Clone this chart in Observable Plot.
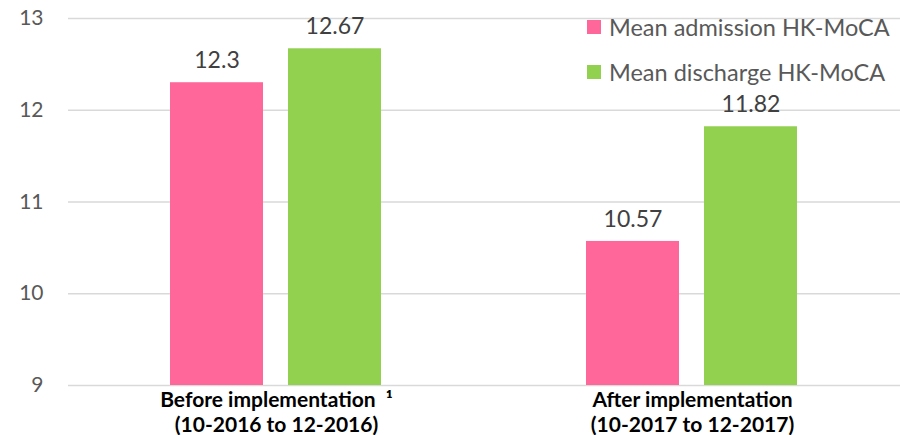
<!DOCTYPE html>
<html>
<head>
<meta charset="utf-8">
<script src="https://cdn.jsdelivr.net/npm/d3@7"></script>
<script src="https://cdn.jsdelivr.net/npm/@observablehq/plot@0.6"></script>
<style>
  body { margin: 0; background: #fff; }
  #wrap { position: relative; width: 900px; height: 435px; font-family: Lato, "Open Sans", sans-serif; }
  #legend { position: absolute; left: 587px; top: 11px; color: #595959; font-size: 23.5px; }
  #legend .row { display: flex; align-items: center; height: 32px; margin-bottom: 13px; }
  #legend .sw { width: 14px; height: 14px; margin-right: 8px; }
</style>
</head>
<body>
<div id="wrap"></div>
<script>
const groups = ["Before implementation  ¹\n(10-2016 to 12-2016)", "After implementation\n(10-2017 to 12-2017)"];
const series = ["Mean admission HK-MoCA", "Mean discharge HK-MoCA"];
const admission = [12.3, 10.57];
const discharge = [12.67, 11.82];
const yTicks = [9, 10, 11, 12, 13];
const colors = ["#FF6699", "#92D050"];

const data = [];
groups.forEach((g, i) => {
  data.push({group: g, series: series[0], value: admission[i]});
  data.push({group: g, series: series[1], value: discharge[i]});
});

const chart = Plot.plot({
  width: 900,
  height: 435,
  marginLeft: 67,
  marginRight: 0,
  marginTop: 18,
  marginBottom: 50,
  style: {fontFamily: "Lato, 'Open Sans', sans-serif", background: "#fff"},
  fx: {domain: groups, padding: 0, label: null, axis: null},
  x: {domain: series, paddingInner: 0.21, paddingOuter: 0.855, axis: null},
  y: {domain: [9, 13], label: null, axis: null},
  color: {domain: series, range: colors},
  marks: [
    Plot.gridY(yTicks, {stroke: "#d9d9d9", strokeOpacity: 1, strokeWidth: 1.3}),
    Plot.axisY(yTicks, {tickSize: 0, tickPadding: 25, fontSize: 21, fill: "#595959", label: null, tickFormat: d => d}),
    Plot.barY(data, {fx: "group", x: "series", y1: 9, y2: "value", fill: "series"}),
    Plot.text(data, {fx: "group", x: "series", y: "value", text: d => String(d.value), dy: -22, fontSize: 23, fill: "#404040"}),
    Plot.text(groups, {fx: d => d, text: d => d, frameAnchor: "bottom", lineAnchor: "top", dy: 3, fontSize: 21, fontWeight: "bold", fill: "#000", lineHeight: 1.22})
  ]
});

const wrap = document.getElementById("wrap");
wrap.appendChild(chart);

const legend = document.createElement("div");
legend.id = "legend";
series.forEach((s, i) => {
  const row = document.createElement("div");
  row.className = "row";
  const sw = document.createElement("div");
  sw.className = "sw";
  sw.style.background = colors[i];
  const t = document.createElement("span");
  t.textContent = s;
  row.appendChild(sw);
  row.appendChild(t);
  legend.appendChild(row);
});
wrap.appendChild(legend);
</script>
</body>
</html>
